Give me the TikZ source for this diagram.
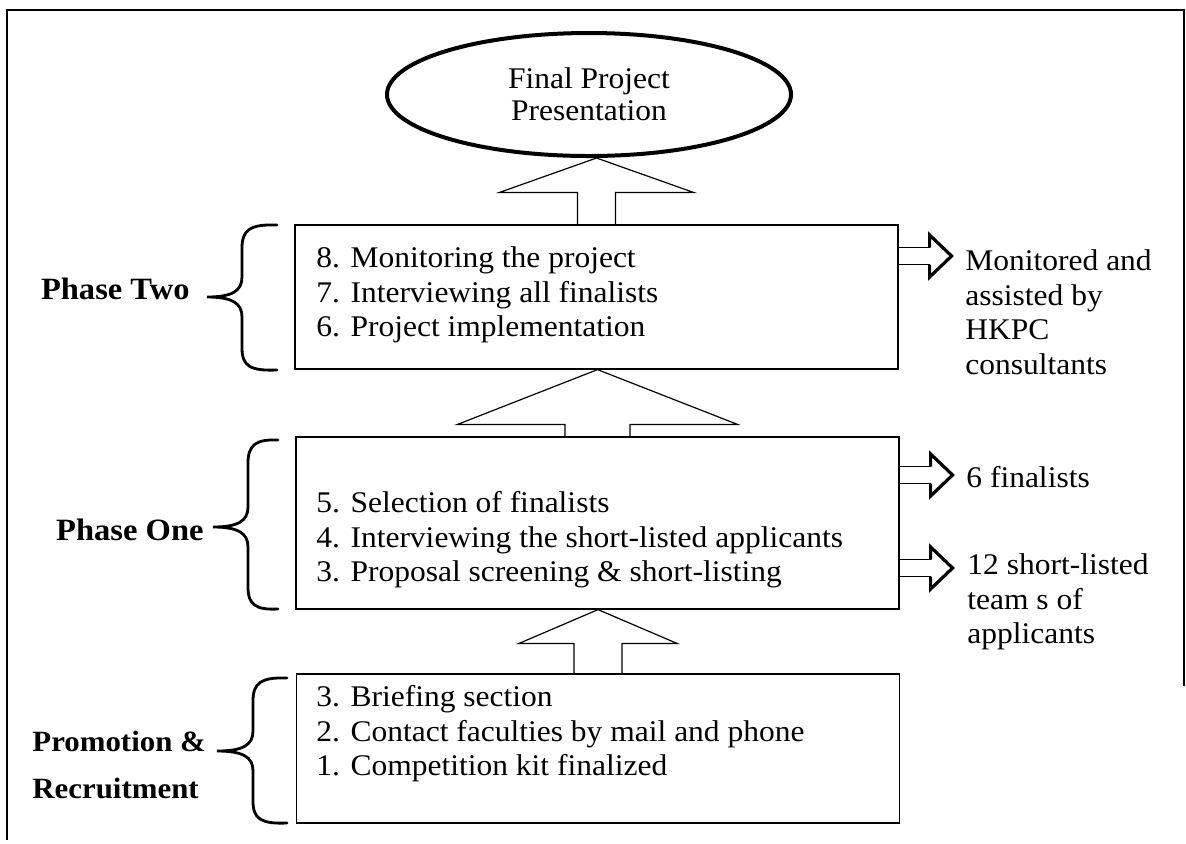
\documentclass[tikz,border=0pt]{standalone}
\usepackage{fontspec}
\setmainfont[FakeStretch=1.05]{Liberation Serif}
\usetikzlibrary{shapes.geometric,calc}
\begin{document}
\begin{tikzpicture}[x=0.5pt,y=-0.5pt,
  box/.style={draw,line width=0.6pt,minimum width=301.5pt,inner sep=0},
  txt/.style={anchor=west,align=left,inner sep=0,font=\fontsize{15}{17.25}\selectfont},
  lbl/.style={inner sep=0,font=\fontsize{15.5}{17}\selectfont\bfseries},
  lbls/.style={inner sep=0,font=\fontsize{14.7}{17}\selectfont\bfseries},
  bracestroke/.style={line width=1.4pt,line cap=round},
  uparrow/.style={line width=0.6pt,line join=miter},
  rarr/.pic={
    \draw[line width=0.7pt] (0,-8.5) -- (31,-8.5) (0,8.5) -- (31,8.5);
    \draw[line width=1.6pt,line join=miter] (31,-8.5) -- (31,-21) -- (53,0) -- (31,21) -- (31,8.5);
  }]
\useasboundingbox (0,0) rectangle (1186,843);

% outer frame
\draw[line width=0.8pt] (7,840) -- (7,10) -- (1184,10) -- (1184,686);

% ellipse
\node[ellipse,draw,line width=2pt,minimum width=202pt,minimum height=61.5pt,inner sep=0,
      align=center,font=\fontsize{15}{16}\selectfont] (ell) at (589,94.5) {Final Project\\Presentation};

% boxes
\node[box,minimum height=72pt] (p2) at (596.5,297) {};
\node[box,minimum height=86pt] (p1) at (597.5,523) {};
\node[box,minimum height=74.5pt] (pr) at (598,748.5) {};

% box texts
\node[txt] (t2) at (316,295) {8. Monitoring the project\\7. Interviewing all finalists\\6. Project implementation};
\node[txt] (t1) at (316,540) {5. Selection of finalists\\4. Interviewing the short-listed applicants\\3. Proposal screening \& short-listing};
\node[txt] (tr) at (316,734) {3. Briefing section\\2. Contact faculties by mail and phone\\1. Competition kit finalized};

% up arrows
\draw[uparrow] ($(p2.north)+(-19,0)$) -- ++(0,-32) -- ++(-78,0) -- (p2.north |- ell.south)
  -- ($(p2.north)+(97,-32)$) -- ++(-78,0) -- ($(p2.north)+(19,0)$);
\draw[uparrow] ($(p1.north)+(-32.5,0)$) -- ++(0,-12) -- ++(-107.5,0) -- (p1.north |- p2.south)
  -- ($(p1.north)+(140,-12)$) -- ++(-107.5,0) -- ($(p1.north)+(32.5,0)$);
\draw[uparrow] ($(pr.north)+(-24,0)$) -- ++(0,-30) -- ++(-55,0) -- (pr.north |- p1.south)
  -- ($(pr.north)+(79,-30)$) -- ++(-55,0) -- ($(pr.north)+(24,0)$);

% right block arrows
\pic at (p2.east |- 0,256) {rarr};
\pic at (p1.east |- 0,475) {rarr};
\pic at (p1.east |- 0,568) {rarr};

% right texts
\node[txt] (o2) at (965,312) {Monitored and\\assisted by\\HKPC\\consultants};
\node[txt] (o1a) at (966,477) {6 finalists};
\node[txt] (o1b) at (967,602) {12 short-listed\\team s of\\applicants};

% braces
\draw[bracestroke] (277,225) .. controls (250,224) and (242,230) .. (242,248) -- (242,277)
  .. controls (242,291) and (232,297) .. (207,297)
  .. controls (232,297) and (242,303) .. (242,317) -- (242,348)
  .. controls (242,366) and (250,371) .. (277,370);
\draw[bracestroke] (278,440) .. controls (256,439) and (248,445) .. (248,463) -- (248,507)
  .. controls (248,521) and (238,527) .. (213,527)
  .. controls (238,527) and (248,533) .. (248,547) -- (248,587)
  .. controls (248,605) and (256,610) .. (278,609);
\draw[bracestroke] (287,678) .. controls (261,677) and (253,683) .. (253,701) -- (253,731)
  .. controls (253,745) and (243,751) .. (217,751)
  .. controls (243,751) and (253,757) .. (253,771) -- (253,801)
  .. controls (253,819) and (261,824) .. (287,823);

% left labels
\node[lbl,anchor=east] (l2) at (190,289) {Phase Two};
\node[lbl,anchor=east] (l1) at (204,530) {Phase One};
\node[lbls,anchor=base west] (lr1) at (32,751) {Promotion \&};
\node[lbls,anchor=base west] (lr2) at (32,798) {Recruitment};
\end{tikzpicture}
\end{document}
